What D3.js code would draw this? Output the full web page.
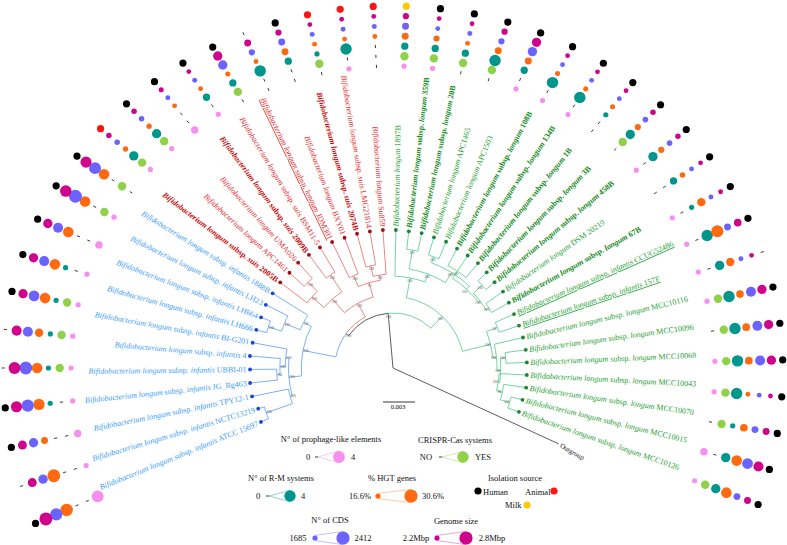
<!DOCTYPE html>
<html><head><meta charset="utf-8">
<script src="https://cdn.jsdelivr.net/npm/d3@7"></script>
<style>body{margin:0;background:#fff}svg{display:block}text{font-family:"Liberation Serif","Times New Roman",serif}</style>
</head><body>
<svg id="c" width="787" height="545"></svg>
<script>
// ---------------- DATA ----------------
const leafStrain = ["ATCC 15697","NCTC13219","TPY12-1","JG_Bg463","UBBI-01","4","BI-G201","LH666","LH664","LH23","1888B",
 "2005B","APC1461","UMA026","2009B","BSM11-5","JDM301","BXY01","2074B","LMG21814","Su859",
 "1897B","359B","20B","APC1465","APC1503","108B","134B","1B","3B","458B","DSM 20219","67B","CCUG52486","157F",
 "MCC10116","MCC10096","MCC10068","MCC10043","MCC10070","MCC10015","MCC10126","Outgroup"];
const leafSubsp = ["infantis","infantis","infantis","infantis","infantis","infantis","infantis","infantis","infantis","infantis","infantis",
 "suis","","","suis","suis","longum","","suis","suis","",
 "","longum","longum","","","longum","longum","longum","longum","longum","","longum","infantis","infantis",
 "longum","longum","longum","longum","longum","longum","longum",null];
const leafClade = ["inf","inf","inf","inf","inf","inf","inf","inf","inf","inf","inf",
 "suis","suis","suis","suis","suis","suis","suis","suis","suis","suis",
 "lon","lon","lon","lon","lon","lon","lon","lon","lon","lon","lon","lon","lon","lon","lon","lon","lon","lon","lon","lon","lon","out"];
const boldLeaves = [11,14,18,22,23,26,27,28,29,30,32];
const underlinedLeaves = [16,33,34];
// distance from root of each leaf (x10^-3 substitutions/site)
const leafDepth = [13.37,13.2,13.48,13.47,13.4,13.46,13.37,13.31,13.25,13.31,13.28,
 13.27,13.19,13.29,13.22,13.22,13.12,13.03,13.03,12.99,12.97,
 12.94,12.9,12.93,12.84,12.84,12.7,12.66,12.66,12.56,12.47,12.56,12.47,12.42,12.47,
 12.52,12.56,12.56,12.56,12.62,12.5,12.5,17.1];
// topology: internal nodes {d: depth x10^-3, bs: bootstrap, c: children}; numbers = leaf index
const tree = {d:0, c:[
 {d:5.15, bs:100, c:[
   {d:5.45, bs:100, c:[
     {d:8.6, bs:100, c:[
       {d:9.8, bs:100, c:[
         {d:10.0, bs:100, c:[ {d:12.6, bs:100, c:[0,1]}, 2 ]},
         {d:10.1, bs:100, c:[ {d:10.6, bs:100, c:[ {d:10.9, bs:94, c:[3,4]}, 5 ]}, 6 ]}
       ]},
       {d:9.4, bs:60, c:[ {d:11.0, bs:100, c:[ {d:12.3, bs:100, c:[7,8]}, 9 ]}, 10 ]}
     ]},
     {d:6.9, bs:100, c:[
       {d:8.6, bs:100, c:[ {d:10.1, bs:100, c:[11, {d:11.3, bs:100, c:[12,13]}]}, {d:10.5, bs:100, c:[14,15]} ]},
       {d:8.3, bs:91, c:[ {d:9.4, bs:100, c:[16,17]}, {d:8.8, bs:100, c:[ {d:9.8, bs:100, c:[18,19]}, 20 ]} ]}
     ]}
   ]},
   {d:6.7, bs:100, c:[
     {d:8.6, bs:100, c:[ 21, {d:9.4, bs:100, c:[ {d:11.2, bs:100, c:[22,23]},
        {d:10.5, bs:100, c:[ {d:11.1, bs:100, c:[24,25]},
          {d:10.1, bs:100, c:[ {d:10.9, bs:100, c:[26,27,28]},
            {d:10.3, bs:100, c:[ {d:11.4, bs:100, c:[29,30]}, {d:10.6, bs:100, c:[31,32]} ]} ]} ]} ]} ]},
     {d:9.4, bs:100, c:[ {d:10.5, bs:56, c:[33,34]},
        {d:9.75, bs:100, c:[35, {d:10.1, bs:100, c:[ {d:10.6, bs:100, c:[36,37]},
          {d:9.95, bs:100, c:[38, {d:10.5, bs:96, c:[39, {d:11.4, bs:100, c:[40,41]}]}]} ]}]} ]}
   ]}
 ]},
 42
]};
// per-strain features (leaves 0..41)
const prophage = [4,1,2,1,1,1,1,1,2,1,0, 1,1,2,1,0,0,0,0,1,0, 1,1,0,0,1,1,1,0,0,1,0,1,1,1, 1,0,1,1,0,2,1];
const crispr   = [0,0,0,0,1,1,1,0,0,1,1, 1,1,0,0,1,0,0,1,0,0, 1,1,1,1,0,0,0,0,1,0,0,0,0,0, 1,1,1,1,1,0,1];
const rmSystems= [0,0,0,1,1,1,1,1,0,0,0, 3,3,0,2,2,4,2,1,4,0, 2,2,2,4,2,4,4,1,3,3,2,1,4,3, 4,4,4,4,1,3,3];
const hgtPct   = [29.5,30,20.2,27.5,26.3,22.6,26.3,26.3,26.3,26.3,26.3, 17.5,17.5,16.8,16.8,17,16.8,20.2,16.8,16.8,16.8,
 20.2,18.9,16.8,20.2,20.2,17,17,17,19,19,17.7,22.6,28.8,22.6, 21.4,21.4,21.4,16.8,21.4,26.3,26.3];
const cdsCount = [2330,2080,2080,2330,2390,2140,2200,2140,2140,2390,2300, 1750,1750,1700,1700,2080,1810,1870,1700,1700,1700,
 1870,1690,1700,1810,2080,1690,1690,1690,1760,1760,1690,1700,1870,1700, 2140,2140,2140,1690,1870,2200,1870];
const genomeSize=[2.78,2.5,2.5,2.65,2.7,2.58,2.52,2.52,2.52,2.68,2.65, 2.25,2.25,2.22,2.2,2.52,2.35,2.3,2.2,2.2,2.2,
 2.3,2.2,2.2,2.3,2.52,2.2,2.2,2.2,2.25,2.25,2.2,2.2,2.4,2.2, 2.52,2.52,2.52,2.2,2.35,2.58,2.35];
const isolation = ["H","","H","H","","","H","H","H","H","H", "A","H","H","H","H","","H","A","A","A",
 "M","H","H","H","H","H","H","H","H","H","H","H","H","", "H","H","H","H","H","H","H"];

// ---------------- SETUP ----------------
const svg = d3.select("#c");
const cx = 393, cy = 368;
const rad = a => a*Math.PI/180;
const pt = (r,a) => [cx + r*Math.cos(rad(a)), cy - r*Math.sin(rad(a))];
const depthScale = d3.scaleLinear().domain([0,3]).range([0,32]);
const angleScale = d3.scaleLinear().domain([0,42]).range([202.2,-24.6]);
// angular placement of the bubble rows (slightly wider fan than the labels)
const bubbleAngle = d3.scaleLinear().domain([0,4,9,13,21,41]).range([203.5,180,151.6,129.8,87.9,-20.5]);

const branchCol = {inf:"#5b9ef2", suis:"#e46a6a", lon:"#52c98c", out:"#333", mix:"#333"};
const textCol   = {inf:"#3a9cf5", suis:"#e62b2e", lon:"#23a02f", out:"#111"};
const boldCol   = {inf:"#3a9cf5", suis:"#c50d0d", lon:"#138a22", out:"#111"};
const dotCol    = {inf:"#1747d0", suis:"#9e0f16", lon:"#13863a", out:"#111"};

function build(n, parent){
  if (typeof n === "number") return {leaf:n, r:depthScale(leafDepth[n]), angle:angleScale(n), clade:leafClade[n], parent};
  const node = {r:depthScale(n.d), bs:n.bs, parent};
  node.children = n.c.map(ch => build(ch, node));
  const as = node.children.map(c=>c.angle);
  node.angle = (d3.min(as)+d3.max(as))/2;
  const cl = Array.from(new Set(node.children.map(c=>c.clade)));
  node.clade = cl.length===1 ? cl[0] : "mix";
  return node;
}
const root = build(tree, null);
const nodes = [];
(function walk(n){ nodes.push(n); (n.children||[]).forEach(walk); })(root);

// ---------------- TREE ----------------
const gTree = svg.append("g");
nodes.filter(n=>n.parent).forEach(n=>{
  const p = d3.path(), par = n.parent;
  if (par.r > 0) {
    const a0 = -rad(par.angle), a1 = -rad(n.angle);
    const [sx,sy] = pt(par.r, par.angle);
    p.moveTo(sx,sy);
    p.arc(cx,cy,par.r,a0,a1,a1<a0);
  } else p.moveTo(cx,cy);
  const [x,y] = pt(n.r, n.angle); p.lineTo(x,y);
  gTree.append("path").attr("d",p.toString()).attr("fill","none")
    .attr("stroke",branchCol[n.clade]).attr("stroke-width",0.8);
});
nodes.filter(n=>n.children && n.bs && n.parent).forEach(n=>{
  const [x,y] = pt(n.r-3, n.angle);
  gTree.append("text").attr("x",x).attr("y",y).attr("font-size",3.6).attr("fill","#555")
    .attr("text-anchor","middle").attr("dy","0.35em").text(n.bs);
});
const leaves = nodes.filter(n=>n.leaf!==undefined && n.leaf<42);
gTree.selectAll("circle.tip").data(leaves).join("circle")
  .attr("cx",d=>pt(d.r,d.angle)[0]).attr("cy",d=>pt(d.r,d.angle)[1]).attr("r",1.9)
  .attr("fill",d=>dotCol[d.clade]);

// labels
const gLab = svg.append("g");
leaves.forEach(d=>{
  const i = d.leaf, a = d.angle, flip = a>90 && a<270;
  const g = gLab.append("g").attr("transform",`translate(${cx},${cy}) rotate(${-a}) translate(${d.r+3.5},0)` + (flip?" rotate(180)":""));
  const bold = boldLeaves.includes(i);
  const t = g.append("text").attr("font-size",8).attr("dy","0.33em")
    .attr("text-anchor",flip?"end":"start")
    .attr("fill", bold?boldCol[d.clade]:textCol[d.clade])
    .attr("font-weight",bold?"bold":"normal")
    .attr("text-decoration", underlinedLeaves.includes(i)?"underline":null);
  t.append("tspan").attr("font-style","italic").text("Bifidobacterium longum");
  if (leafSubsp[i]) {
    t.append("tspan").text(" subsp. ");
    t.append("tspan").attr("font-style","italic").text(leafSubsp[i]);
  }
  t.append("tspan").text(" "+leafStrain[i]);
});
{
  const og = nodes.find(n=>n.leaf===42);
  const [ox,oy] = pt(og.r+2, og.angle);
  gLab.append("text").attr("transform",`translate(${ox},${oy}) rotate(30)`)
    .attr("font-size",7).attr("dy","0.35em").attr("fill","#111").text("Outgroup");
}

// ---------------- BUBBLES ----------------
const colors = {pro:"#f78ff0", cri:"#8fd24a", rm:"#00968b", hgt:"#ff6a10", cds:"#6c63ff", gs:"#cf038c",
                H:"#000", A:"#ff1414", M:"#ffc800"};
const proR = d3.scaleLinear().domain([1,4]).range([2.6,5.9]);
const rmR  = d3.scaleLinear().domain([1,4]).range([2.6,5.7]);
const hgtR = d3.scaleLinear().domain([16.6,30.6]).range([2.4,6.6]);
const cdsR = d3.scaleLinear().domain([1685,2412]).range([2.4,6.6]);
const gsR  = d3.scaleLinear().domain([2.2,2.8]).range([2.4,6.6]);
const gB = svg.append("g");
function colPos(k,a){
  const A = 322+11.3*k, B = 302+10*k, c = Math.cos(rad(a)), s = Math.sin(rad(a));
  const r = s>0 ? 1/Math.sqrt(c*c/(A*A)+s*s/(B*B)) : A;
  return [cx + r*c, cy - r*s];
}
function dash(x,y){
  const dx=x-cx, dy=y-cy, L=Math.hypot(dx,dy), ux=dx/L*1.6, uy=dy/L*1.6;
  gB.append("line").attr("x1",x-ux).attr("y1",y-uy).attr("x2",x+ux).attr("y2",y+uy)
    .attr("stroke","#222").attr("stroke-width",0.9);
}
function bubble(k,a,r,col){
  const [x,y]=colPos(k,a);
  if (!r) { dash(x,y); return; }
  gB.append("circle").attr("cx",x).attr("cy",y).attr("r",r).attr("fill",col);
}
leaves.forEach(d=>{
  const i=d.leaf, a=bubbleAngle(i);
  bubble(0,a, prophage[i]?proR(prophage[i]):0, colors.pro);
  bubble(1,a, crispr[i]?4.2:0, colors.cri);
  bubble(2,a, rmSystems[i]?rmR(rmSystems[i]):0, colors.rm);
  bubble(3,a, hgtR(hgtPct[i]), colors.hgt);
  bubble(4,a, cdsR(cdsCount[i]), colors.cds);
  bubble(5,a, gsR(genomeSize[i]), colors.gs);
  bubble(6,a, isolation[i]?3.6:0, colors[isolation[i]]);
});

// ---------------- SCALE BAR ----------------
svg.append("line").attr("x1",383).attr("x2",383+depthScale(3)).attr("y1",402).attr("y2",402).attr("stroke","#222").attr("stroke-width",0.9);
svg.append("text").attr("x",398).attr("y",409).attr("font-size",6.5).attr("text-anchor","middle").text("0.003");

// ---------------- LEGENDS ----------------
const L = svg.append("g").attr("font-size",8.5).attr("fill","#111");
function title(x,y,t){ L.append("text").attr("x",x).attr("y",y).attr("text-anchor","middle").text(t); }
function label(x,y,t,anchor){ L.append("text").attr("x",x).attr("y",y).attr("dy","0.35em").attr("text-anchor",anchor||"middle").text(t); }
function cone(x0,r0,x1,r1,y,col,stroke){
  L.append("path").attr("d",`M${x0},${y-r0}L${x1},${y-r1}L${x1},${y+r1}L${x0},${y+r0}Z`)
   .attr("fill","none").attr("stroke",stroke).attr("stroke-width",0.7);
  L.append("circle").attr("cx",x1).attr("cy",y).attr("r",r1).attr("fill",col);
  if (r0>0.5) L.append("circle").attr("cx",x0).attr("cy",y).attr("r",r0).attr("fill",col);
  else L.append("line").attr("x1",x0-3).attr("x2",x0).attr("y1",y).attr("y2",y).attr("stroke","#222").attr("stroke-width",0.9);
}
title(331,442,"N° of prophage-like elements");
label(308,457,"0"); cone(318,0,339,5.9,457,colors.pro,"#f3b6ef"); label(353,457,"4");
title(455,443,"CRISPR-Cas systems");
label(426,457,"NO"); cone(442,0,463,5.7,457,colors.cri,"#b9e397"); label(483,457,"YES");
title(281,481,"N° of R-M systems");
label(258,496,"0"); cone(269,0,290,5.7,496,colors.rm,"#66c2ba"); label(303,496,"4");
title(392,481,"% HGT genes");
label(360,496,"16.6%"); cone(378,2.6,411,6.6,496,colors.hgt,"#ffb283"); label(433,496,"30.6%");
title(515,481,"Isolation source");
L.append("circle").attr("cx",478).attr("cy",491).attr("r",3.6).attr("fill",colors.H);
label(483,492,"Human","start");
label(525,492,"Animal","start");
L.append("circle").attr("cx",554).attr("cy",491).attr("r",3.6).attr("fill",colors.A);
label(505,505,"Milk","start");
L.append("circle").attr("cx",527).attr("cy",505).attr("r",3.6).attr("fill",colors.M);
title(330,523,"N° of CDS");
label(298,538,"1685"); cone(315,2.6,343,6.6,538,colors.cds,"#aaa6ff"); label(363,538,"2412");
title(456,524,"Genome size");
label(416,538,"2.2Mbp"); cone(437,2.6,466,6.6,538,colors.gs,"#e47fbf"); label(492,538,"2.8Mbp");
</script>
</body></html>
